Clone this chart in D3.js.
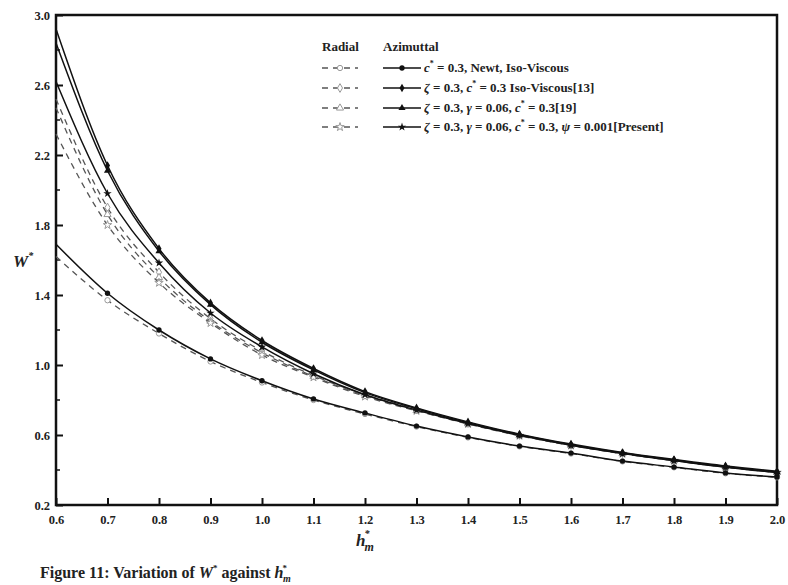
<!DOCTYPE html>
<html><head><meta charset="utf-8">
<script src="https://cdn.jsdelivr.net/npm/d3@7"></script>
<style>
body{margin:0;background:#fff;}
text{font-family:"Liberation Serif","Times New Roman",serif;}
</style></head>
<body>
<svg id="c" width="788" height="585"></svg>
<script>
const hValues = [0.6,0.7,0.8,0.9,1.0,1.1,1.2,1.3,1.4,1.5,1.6,1.7,1.8,1.9,2.0];
const xTicks = ["0.6","0.7","0.8","0.9","1.0","1.1","1.2","1.3","1.4","1.5","1.6","1.7","1.8","1.9","2.0"];
const yTicks = ["0.2","0.6","1.0","1.4","1.8","2.2","2.6","3.0"];

// Azimuthal (solid)
const azNewt    = [1.69,1.41,1.20,1.035,0.91,0.806,0.726,0.651,0.589,0.537,0.497,0.451,0.417,0.383,0.36];
const az13      = [2.92,2.14,1.665,1.355,1.14,0.98,0.848,0.755,0.675,0.605,0.548,0.50,0.46,0.423,0.393];
const az19      = [2.84,2.11,1.65,1.345,1.13,0.972,0.842,0.75,0.67,0.601,0.544,0.497,0.457,0.419,0.388];
const azPresent = [2.62,1.98,1.583,1.297,1.103,0.95,0.83,0.742,0.665,0.598,0.541,0.494,0.454,0.416,0.385];
// Radial (dashed)
const radNewt    = [1.62,1.37,1.18,1.02,0.90,0.80,0.72,0.648,0.586,0.535,0.494,0.449,0.415,0.381,0.358];
const rad13      = [2.52,1.90,1.53,1.265,1.08,0.94,0.83,0.745,0.668,0.600,0.543,0.496,0.455,0.418,0.387];
const rad19      = [2.47,1.86,1.50,1.25,1.07,0.935,0.825,0.740,0.665,0.598,0.541,0.494,0.454,0.417,0.386];
const radPresent = [2.32,1.80,1.47,1.24,1.057,0.93,0.82,0.738,0.663,0.596,0.540,0.493,0.453,0.416,0.385];

const azSeries = [azNewt, az13, az19, azPresent];
const radSeries = [radNewt, rad13, rad19, radPresent];
const symbols = [d3.symbolCircle, d3.symbolDiamond, d3.symbolTriangle, d3.symbolStar];

const svg = d3.select("#c");
const L=56, R=777, T=15, B=505;
const x = d3.scaleLinear().domain([0.6,2.0]).range([L,R]);
const y = d3.scaleLinear().domain([0.2,3.0]).range([B,T]);

// axes
const xAxis = d3.axisBottom(x).tickValues(xTicks.map(Number)).tickFormat((d,i)=>xTicks[i]).tickSizeInner(-7).tickSizeOuter(0).tickPadding(10);
const yAxis = d3.axisLeft(y).tickValues(yTicks.map(Number)).tickFormat((d,i)=>yTicks[i]).tickSizeInner(-7).tickSizeOuter(0).tickPadding(6);
const gx = svg.append("g").attr("transform",`translate(0,${B})`).call(xAxis);
const gy = svg.append("g").attr("transform",`translate(${L},0)`).call(yAxis);
[gx,gy].forEach(g=>{
  g.select(".domain").remove();
  g.selectAll("line").attr("stroke","#111").attr("stroke-width",2);
  g.selectAll("text").attr("font-size",12.5).attr("font-weight","bold").attr("fill","#222")
   .attr("font-family","'Liberation Serif',serif");
});
// minor y ticks
const minorY = d3.range(0.4,3.0,0.4);
svg.append("g").selectAll("line").data(minorY).join("line")
  .attr("x1",L).attr("x2",L+4).attr("y1",d=>y(d)).attr("y2",d=>y(d))
  .attr("stroke","#111").attr("stroke-width",1.5);

// frame
svg.append("rect").attr("x",L).attr("y",T).attr("width",R-L).attr("height",B-T)
  .attr("fill","none").attr("stroke","#111").attr("stroke-width",2.5);

const line = d3.line().x((d,i)=>x(hValues[i])).y(d=>y(d)).curve(d3.curveMonotoneX);

// radial dashed
radSeries.forEach((s,k)=>{
  svg.append("path").attr("d",line(s)).attr("fill","none")
    .attr("stroke","#555").attr("stroke-width",1.3).attr("stroke-dasharray","6,5");
  svg.append("g").selectAll("path").data(s.slice(1)).join("path")
    .attr("transform",(d,i)=>`translate(${x(hValues[i+1])},${y(d)})`)
    .attr("d",d3.symbol(symbols[k],22))
    .attr("fill","#fff").attr("stroke","#999").attr("stroke-width",1);
});
// azimuthal solid
azSeries.forEach((s,k)=>{
  svg.append("path").attr("d",line(s)).attr("fill","none")
    .attr("stroke","#111").attr("stroke-width",1.5);
  svg.append("g").selectAll("path").data(s.slice(1)).join("path")
    .attr("transform",(d,i)=>`translate(${x(hValues[i+1])},${y(d)})`)
    .attr("d",d3.symbol(symbols[k],22))
    .attr("fill","#111");
});

// legend
const lg = svg.append("g").attr("font-weight","bold").attr("font-size",13).attr("fill","#222");
lg.append("text").attr("x",322).attr("y",51).text("Radial");
lg.append("text").attr("x",383).attr("y",51).text("Azimuttal");
const legendRows = [
  [["c","i"],["*","s"],[" = 0.3, Newt, Iso-Viscous",""]],
  [["ζ","i"],[" = 0.3,  ",""],["c","i"],["*","s"],[" = 0.3 Iso-Viscous[13]",""]],
  [["ζ","i"],[" = 0.3, ",""],["γ","i"],[" = 0.06, ",""],["c","i"],["*","s"],[" = 0.3[19]",""]],
  [["ζ","i"],[" = 0.3, ",""],["γ","i"],[" = 0.06, ",""],["c","i"],["*","s"],[" = 0.3,  ",""],["ψ","i"],[" = 0.001[Present]",""]]
];
const rowY = [72,92,112,131];
legendRows.forEach((parts,k)=>{
  const yy = rowY[k];
  lg.append("line").attr("x1",322).attr("x2",358).attr("y1",yy-4).attr("y2",yy-4)
    .attr("stroke","#555").attr("stroke-width",1.3).attr("stroke-dasharray","6,5");
  lg.append("path").attr("transform",`translate(340,${yy-4})`).attr("d",d3.symbol(symbols[k],22))
    .attr("fill","#fff").attr("stroke","#999");
  lg.append("line").attr("x1",383).attr("x2",421).attr("y1",yy-4).attr("y2",yy-4)
    .attr("stroke","#111").attr("stroke-width",1.5);
  lg.append("path").attr("transform",`translate(402,${yy-4})`).attr("d",d3.symbol(symbols[k],22))
    .attr("fill","#111");
  const t = lg.append("text").attr("x",424).attr("y",yy);
  parts.forEach(([s,st],i)=>{
    const ts = t.append("tspan").text(s);
    if(st==="i") ts.attr("font-style","italic");
    if(st==="s") ts.attr("font-size",8).attr("dy",-6);
    const prev = parts[i-1];
    if(prev && prev[1]==="s") ts.attr("dy",6);
  });
});

// axis titles
const yl = svg.append("text").attr("x",13).attr("y",267).attr("font-size",17).attr("font-weight","bold").attr("font-style","italic").attr("fill","#222");
yl.append("tspan").text("W");
yl.append("tspan").text("*").attr("font-size",10).attr("dy",-8);

const xl = svg.append("text").attr("x",356).attr("y",546).attr("font-size",17).attr("font-weight","bold").attr("font-style","italic").attr("fill","#222");
xl.append("tspan").text("h");
xl.append("tspan").text("*").attr("font-size",10).attr("dx",-1).attr("dy",-9);
xl.append("tspan").text("m").attr("font-size",12).attr("dx",-5).attr("dy",14);

const cap = svg.append("text").attr("x",40).attr("y",578).attr("font-size",16).attr("font-weight","bold").attr("fill","#222");
cap.append("tspan").text("Figure 11: Variation of  ");
cap.append("tspan").text("W").attr("font-style","italic");
cap.append("tspan").text("*").attr("font-size",9).attr("dy",-7);
cap.append("tspan").text(" against ").attr("dy",7);
cap.append("tspan").text("h").attr("font-style","italic");
cap.append("tspan").text("*").attr("font-size",9).attr("dy",-7).attr("dx",-1);
cap.append("tspan").text("m").attr("font-size",10).attr("font-style","italic").attr("dx",-4).attr("dy",11);
</script>
</body></html>
